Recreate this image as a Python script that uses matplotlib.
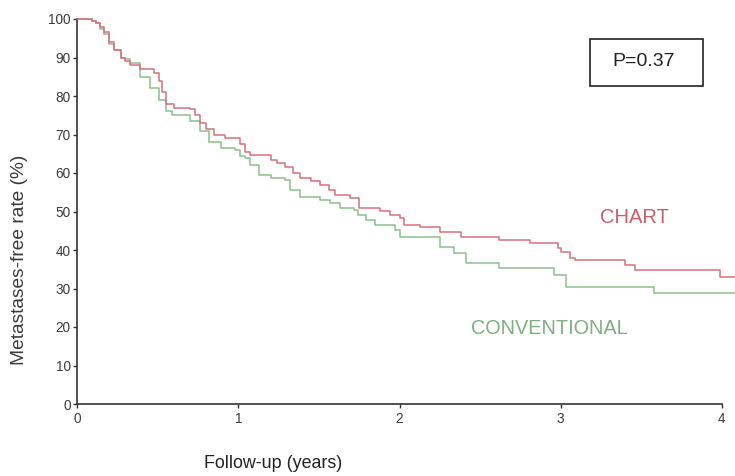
import matplotlib
matplotlib.use("Agg")
import matplotlib.pyplot as plt

plt.rcParams['font.family'] = ['Liberation Sans', 'DejaVu Sans']

# CHART arm (red)
chart_t = [0, 0.09, 0.12, 0.14, 0.17, 0.2, 0.23, 0.27, 0.3, 0.33, 0.39, 0.48, 0.51, 0.53, 0.55,
           0.6, 0.7, 0.73, 0.76, 0.8, 0.85, 0.92, 1.01, 1.04, 1.07, 1.2, 1.24, 1.29, 1.34, 1.38,
           1.45, 1.51, 1.56, 1.6, 1.69, 1.75, 1.88, 1.94, 2.0, 2.03, 2.13, 2.25, 2.38, 2.62,
           2.81, 2.98, 3.0, 3.06, 3.09, 3.4, 3.46, 3.99, 4.08]
chart_s = [100, 99.5, 99, 98, 96.5, 94, 92, 90, 89, 88, 87, 86, 84, 81, 78,
           77, 76.5, 75, 73, 71.5, 70, 69, 67.5, 65.5, 64.7, 63.5, 62.5, 61.6, 60, 58.7,
           57.8, 56.9, 55.5, 54.3, 53.5, 50.9, 50.2, 49.1, 48.3, 46.5, 46, 44.7, 43.4, 42.6,
           41.8, 40.5, 39.5, 37.9, 37.4, 36.1, 34.8, 33, 33]

# CONVENTIONAL arm (green)
conv_t = [0, 0.09, 0.12, 0.14, 0.17, 0.2, 0.23, 0.27, 0.3, 0.33, 0.39, 0.45, 0.51, 0.55,
          0.59, 0.7, 0.76, 0.82, 0.89, 0.98, 1.01, 1.04, 1.07, 1.13, 1.2, 1.29, 1.32, 1.38,
          1.51, 1.57, 1.63, 1.72, 1.74, 1.79, 1.85, 1.97, 2.0, 2.25, 2.34, 2.41, 2.62, 2.96,
          3.03, 3.58, 4.08]
conv_s = [100, 99.5, 99, 97.5, 96, 93.5, 92, 90, 89.5, 88.7, 85, 82, 79, 76,
          75, 73.5, 71, 68, 66.5, 66, 64.5, 63.9, 62, 59.5, 58.7, 58.2, 55.6, 53.8,
          53, 52.2, 50.9, 50.4, 49.1, 47.8, 46.5, 45.2, 43.4, 40.8, 39.2, 36.6, 35.3, 33.5,
          30.4, 28.8, 28.8]

x_ticks = [0, 1, 2, 3, 4]
y_ticks = [0, 10, 20, 30, 40, 50, 60, 70, 80, 90, 100]

fig = plt.figure(figsize=(7.35, 4.76), dpi=100)
ax = fig.add_axes([77/735, 1-404/476, (722-77)/735, (404-19)/476])

red = "#d9707c"
green = "#8cbf8c"
ax.step(chart_t, chart_s, where='post', color=red, lw=1.1, clip_on=False, zorder=3)
ax.step(conv_t, conv_s, where='post', color=green, lw=1.1, clip_on=False, zorder=2)

ax.set_xlim(0, 4)
ax.set_ylim(0, 100)
ax.set_xticks(x_ticks)
ax.set_yticks(y_ticks)
ax.spines['top'].set_visible(False)
ax.spines['right'].set_visible(False)
for s in ['left', 'bottom']:
    ax.spines[s].set_color('#333333')
    ax.spines[s].set_linewidth(1.2)
ax.tick_params(axis='both', colors='#333333', labelcolor='#3a3a3a', labelsize=9.8,
               length=3, width=1)
ax.tick_params(axis='x', pad=3)
ax.tick_params(axis='y', pad=1.5)

fig.text(20/735, 1-260/476, "Metastases-free rate (%)", rotation=90, ha='center', va='center',
         fontsize=13.8, color='#3a3a3a')
fig.text(273/735, 1-464/476, "Follow-up (years)", ha='center', va='center',
         fontsize=12.9, color='#222222')

fig.text(634/735, 1-218/476, "CHART", ha='center', va='center', fontsize=14.5, color="#c8606b")
fig.text(549/735, 1-328/476, "CONVENTIONAL", ha='center', va='center', fontsize=14.3, color="#7fae82")

fig.text(644/735, 1-62/476, "P=0.37", ha='center', va='center', fontsize=14, color='#222222')
rect = plt.Rectangle((590/735, 1-86/476), (703-590)/735, (86-39)/476, transform=fig.transFigure,
                     fill=False, edgecolor='#222222', lw=1.2)
fig.add_artist(rect)

fig.savefig("out.png", dpi=100)
